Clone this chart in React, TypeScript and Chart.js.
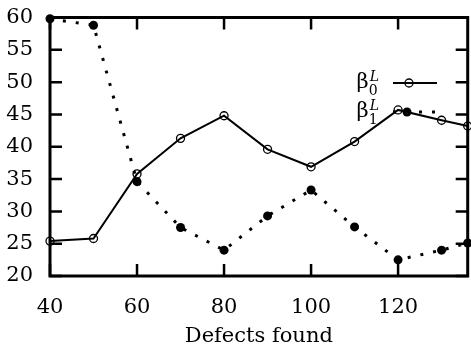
import React, { useEffect, useRef } from "react";
import { Chart, registerables } from "chart.js";
Chart.register(...registerables);

const defects = [40, 50, 60, 70, 80, 90, 100, 110, 120, 130, 136];
const beta0 = [25.4, 25.8, 35.8, 41.3, 44.8, 39.6, 36.9, 40.8, 45.7, 44.1, 43.2];
const beta1 = [59.8, 58.8, 34.6, 27.5, 24.0, 29.3, 33.3, 27.6, 22.5, 24.0, 25.1];
const xTicks = [40, 60, 80, 100, 120];
const yTicks = [20, 25, 30, 35, 40, 45, 50, 55, 60];
const seriesLabels = ["0", "1"];

const FONT = "'DejaVu Serif'";

const framePlugin = {
  id: "frame",
  beforeDatasetsDraw(chart: any) {
    const { ctx, chartArea: a, scales } = chart;
    ctx.save();
    ctx.strokeStyle = "#000";
    ctx.lineWidth = 2.5;
    const tl = 12;
    ctx.beginPath();
    for (const v of xTicks) {
      const px = scales.x.getPixelForValue(v);
      ctx.moveTo(px, a.bottom);
      ctx.lineTo(px, a.bottom - tl);
      ctx.moveTo(px, a.top);
      ctx.lineTo(px, a.top + tl);
    }
    for (const v of yTicks) {
      const py = scales.y.getPixelForValue(v);
      ctx.moveTo(a.left, py);
      ctx.lineTo(a.left + tl, py);
      ctx.moveTo(a.right, py);
      ctx.lineTo(a.right - tl, py);
    }
    ctx.stroke();
    ctx.lineWidth = 3;
    ctx.strokeRect(a.left, a.top, a.right - a.left, a.bottom - a.top);
    ctx.restore();
  },
  afterDraw(chart: any) {
    const { ctx } = chart;
    ctx.save();
    ctx.fillStyle = "#000";
    ctx.strokeStyle = "#000";
    const right = 379;
    const rows = [83, 112];
    rows.forEach((y, i) => {
      ctx.font = `21px ${FONT}`;
      const wb = ctx.measureText("β").width;
      ctx.font = `14px ${FONT}`;
      const ws = ctx.measureText(seriesLabels[i]).width;
      ctx.font = `italic 14px ${FONT}`;
      const wl = ctx.measureText("L").width;
      const total = wb + Math.max(ws, wl + 1);
      const x0 = right - total;
      ctx.textBaseline = "alphabetic";
      ctx.textAlign = "left";
      ctx.font = `21px ${FONT}`;
      ctx.fillText("β", x0, y + 5);
      ctx.font = `14px ${FONT}`;
      ctx.fillText(seriesLabels[i], x0 + wb, y + 12);
      ctx.font = `italic 14px ${FONT}`;
      ctx.fillText("L", x0 + wb + 1, y - 2);

      ctx.beginPath();
      if (i === 0) {
        ctx.lineWidth = 2;
        ctx.setLineDash([]);
      } else {
        ctx.lineWidth = 3;
        ctx.setLineDash([3, 10]);
      }
      ctx.moveTo(393, y);
      ctx.lineTo(437, y);
      ctx.stroke();
      ctx.setLineDash([]);
      ctx.beginPath();
      if (i === 0) {
        ctx.lineWidth = 1.3;
        ctx.arc(409, y, 4, 0, Math.PI * 2);
        ctx.stroke();
      } else {
        ctx.arc(407, y, 4.5, 0, Math.PI * 2);
        ctx.fill();
      }
    });
    ctx.restore();
  },
};

export default function App() {
  const ref = useRef<HTMLCanvasElement>(null);
  useEffect(() => {
    if (!ref.current) return;
    const chart = new Chart(ref.current, {
      type: "line",
      data: {
        datasets: [
          {
            label: "beta0",
            data: defects.map((x, i) => ({ x, y: beta0[i] })),
            borderColor: "#000",
            borderWidth: 2,
            pointRadius: 4,
            pointBorderWidth: 1.3,
            pointBackgroundColor: "rgba(0,0,0,0)",
            pointBorderColor: "#000",
            clip: 10,
          },
          {
            label: "beta1",
            data: defects.map((x, i) => ({ x, y: beta1[i] })),
            borderColor: "#000",
            borderWidth: 3,
            borderDash: [3, 10],
            borderCapStyle: "butt",
            pointRadius: 4.5,
            pointBorderWidth: 0,
            pointBackgroundColor: "#000",
            clip: 10,
          },
        ],
      },
      options: {
        animation: false,
        responsive: false,
        layout: { padding: { top: 17.5, right: 1, left: 0, bottom: 0 } },
        plugins: { legend: { display: false }, tooltip: { enabled: false } },
        scales: {
          x: {
            type: "linear",
            min: 40,
            max: 136,
            grid: { display: false, drawTicks: false },
            border: { display: false },
            afterBuildTicks: (s: any) => {
              s.ticks = xTicks.map((v) => ({ value: v }));
            },
            afterFit: (s: any) => {
              s.height = 73;
              s.paddingLeft = 0;
              s.paddingRight = 0;
            },
            ticks: {
              padding: 19,
              color: "#000",
              font: { family: FONT, size: 21 },
              maxRotation: 0,
            },
            title: {
              display: true,
              text: "Defects found",
              color: "#000",
              font: { family: FONT, size: 21 },
              padding: { top: 0, bottom: 0 },
            },
          },
          y: {
            min: 20,
            max: 60,
            grid: { display: false, drawTicks: false },
            border: { display: false },
            afterBuildTicks: (s: any) => {
              s.ticks = yTicks.map((v) => ({ value: v }));
            },
            afterFit: (s: any) => {
              s.width = 50;
              s.paddingTop = 0;
              s.paddingBottom = 0;
            },
            ticks: {
              padding: 17,
              color: "#000",
              font: { family: FONT, size: 21 },
            },
          },
        },
      },
      plugins: [framePlugin],
    } as any);
    return () => chart.destroy();
  }, []);
  return (
    <div
      style={{
        position: "fixed",
        left: 0,
        top: 0,
        width: 471,
        height: 349,
        overflow: "hidden",
        background: "#fff",
      }}
    >
      <canvas ref={ref} width={473} height={349} style={{ display: "block" }} />
    </div>
  );
}
